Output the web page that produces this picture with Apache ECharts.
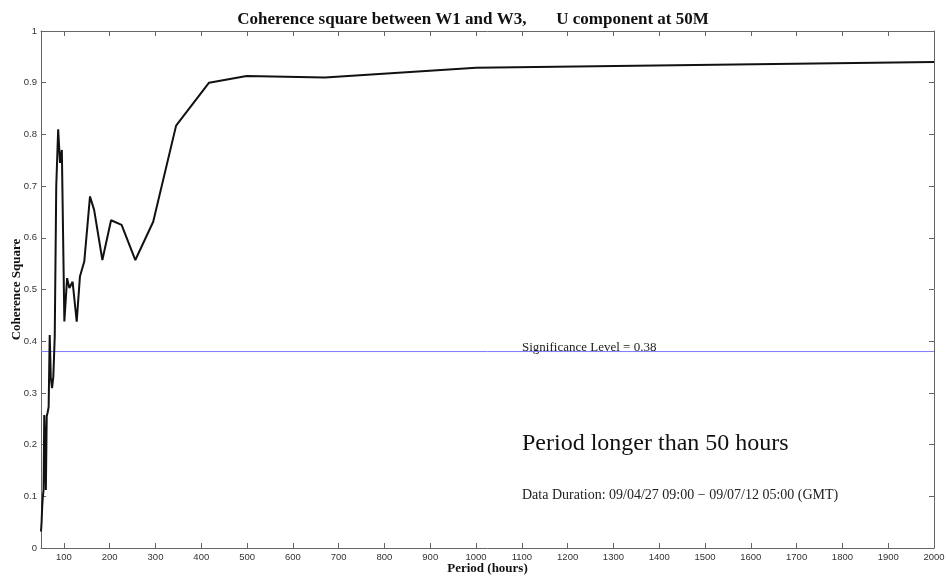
<!DOCTYPE html>
<html>
<head>
<meta charset="utf-8">
<script src="https://cdn.jsdelivr.net/npm/echarts@6/dist/echarts.min.js"></script>
<style>
  html, body { margin: 0; padding: 0; background: #fff; }
</style>
</head>
<body>
<div id="chart" style="width:946px;height:578px;"></div>
<script>
// period (hours) of each estimate, and the coherence square
const periods = [50.0, 51.3, 52.6, 54.1, 55.6, 57.1, 58.8, 60.6, 62.5, 64.5,
  66.7, 69.0, 71.4, 74.1, 76.9, 80.0, 83.3, 87.5, 91.5, 95.5,
  101, 107, 112, 119, 128, 135, 144.5, 157, 166, 184,
  203, 226, 256, 295, 345, 417, 499, 670, 1000, 2000];
const coherence = [0.032, 0.050, 0.080, 0.100, 0.112, 0.257, 0.200, 0.112, 0.255, 0.262,
  0.273, 0.412, 0.330, 0.309, 0.331, 0.409, 0.700, 0.810, 0.745, 0.770,
  0.438, 0.522, 0.503, 0.515, 0.438, 0.525, 0.554, 0.680, 0.654, 0.557,
  0.634, 0.625, 0.557, 0.631, 0.817, 0.900, 0.913, 0.910, 0.929, 0.940];
const significance = 0.38;
const periodRange = [50, 2000];
const xTicks = [100, 200, 300, 400, 500, 600, 700, 800, 900, 1000,
  1100, 1200, 1300, 1400, 1500, 1600, 1700, 1800, 1900, 2000];
const yTicks = [0, 0.1, 0.2, 0.3, 0.4, 0.5, 0.6, 0.7, 0.8, 0.9, 1];

const chart = echarts.init(document.getElementById('chart'));

const serif = '"Liberation Serif", "DejaVu Serif", serif';
const axisColor = '#666';
const tickLabel = {
  color: '#333', fontSize: 9.5,
  fontFamily: '"Liberation Sans Narrow", Arial, "Liberation Sans", sans-serif',
  formatter: v => String(v)
};

function xAxisCfg(pos, showLabel) {
  return {
    type: 'value',
    position: pos,
    min: periodRange[0],
    max: periodRange[1],
    axisLine: { show: true, onZero: false, lineStyle: { color: axisColor, width: 1 } },
    axisTick: { show: true, inside: true, length: 5, customValues: xTicks, lineStyle: { color: axisColor } },
    axisLabel: Object.assign({ show: showLabel, margin: 4, customValues: xTicks }, tickLabel),
    splitLine: { show: false }
  };
}
function yAxisCfg(pos, showLabel) {
  return {
    type: 'value',
    position: pos,
    min: 0,
    max: 1,
    interval: 0.1,
    axisLine: { show: true, onZero: false, lineStyle: { color: axisColor, width: 1 } },
    axisTick: { show: true, inside: true, length: 5, customValues: yTicks, lineStyle: { color: axisColor } },
    axisLabel: Object.assign({ show: showLabel, margin: 4, customValues: yTicks }, tickLabel),
    splitLine: { show: false }
  };
}

const xBottom = xAxisCfg('bottom', true);
xBottom.name = 'Period (hours)';
xBottom.nameLocation = 'middle';
xBottom.nameGap = 14;
xBottom.nameMoveOverlap = false;
xBottom.nameTextStyle = { fontFamily: serif, fontWeight: 'bold', fontSize: 13, color: '#111' };

const yLeft = yAxisCfg('left', true);
yLeft.name = 'Coherence Square';
yLeft.nameLocation = 'middle';
yLeft.nameGap = 18;
yLeft.nameMoveOverlap = false;
yLeft.nameTextStyle = { fontFamily: serif, fontWeight: 'bold', fontSize: 13, color: '#111' };

chart.setOption({
  animation: false,
  backgroundColor: '#fff',
  title: {
    text: 'Coherence square between W1 and W3,       U component at 50M',
    left: 'center',
    top: 6,
    textStyle: { fontFamily: serif, fontWeight: 'bold', fontSize: 17, color: '#111' }
  },
  grid: { left: 41, right: 12, top: 31, bottom: 30, outerBoundsMode: 'none' },
  xAxis: [xBottom, xAxisCfg('top', false)],
  yAxis: [yLeft, yAxisCfg('right', false)],
  series: [
    {
      // significance level
      type: 'line',
      silent: true,
      showSymbol: false,
      data: periodRange.map(p => [p, significance]),
      lineStyle: { color: '#7b7bff', width: 1 },
      z: 1
    },
    {
      type: 'line',
      data: periods.map((p, i) => [p, coherence[i]]),
      showSymbol: false,
      lineStyle: { color: '#111', width: 2 },
      z: 2
    }
  ],
  graphic: [
    {
      type: 'text', left: 522, top: 341,
      style: { text: 'Significance Level = ' + significance, font: '13px ' + serif, fill: '#222' }
    },
    {
      type: 'text', left: 522, top: 432,
      style: { text: 'Period longer than 50 hours', font: '24px ' + serif, fill: '#111' }
    },
    {
      type: 'text', left: 522, top: 488,
      style: { text: 'Data Duration: 09/04/27 09:00 \u2212 09/07/12 05:00 (GMT)', font: '14px ' + serif, fill: '#222' }
    }
  ]
});
</script>
</body>
</html>
